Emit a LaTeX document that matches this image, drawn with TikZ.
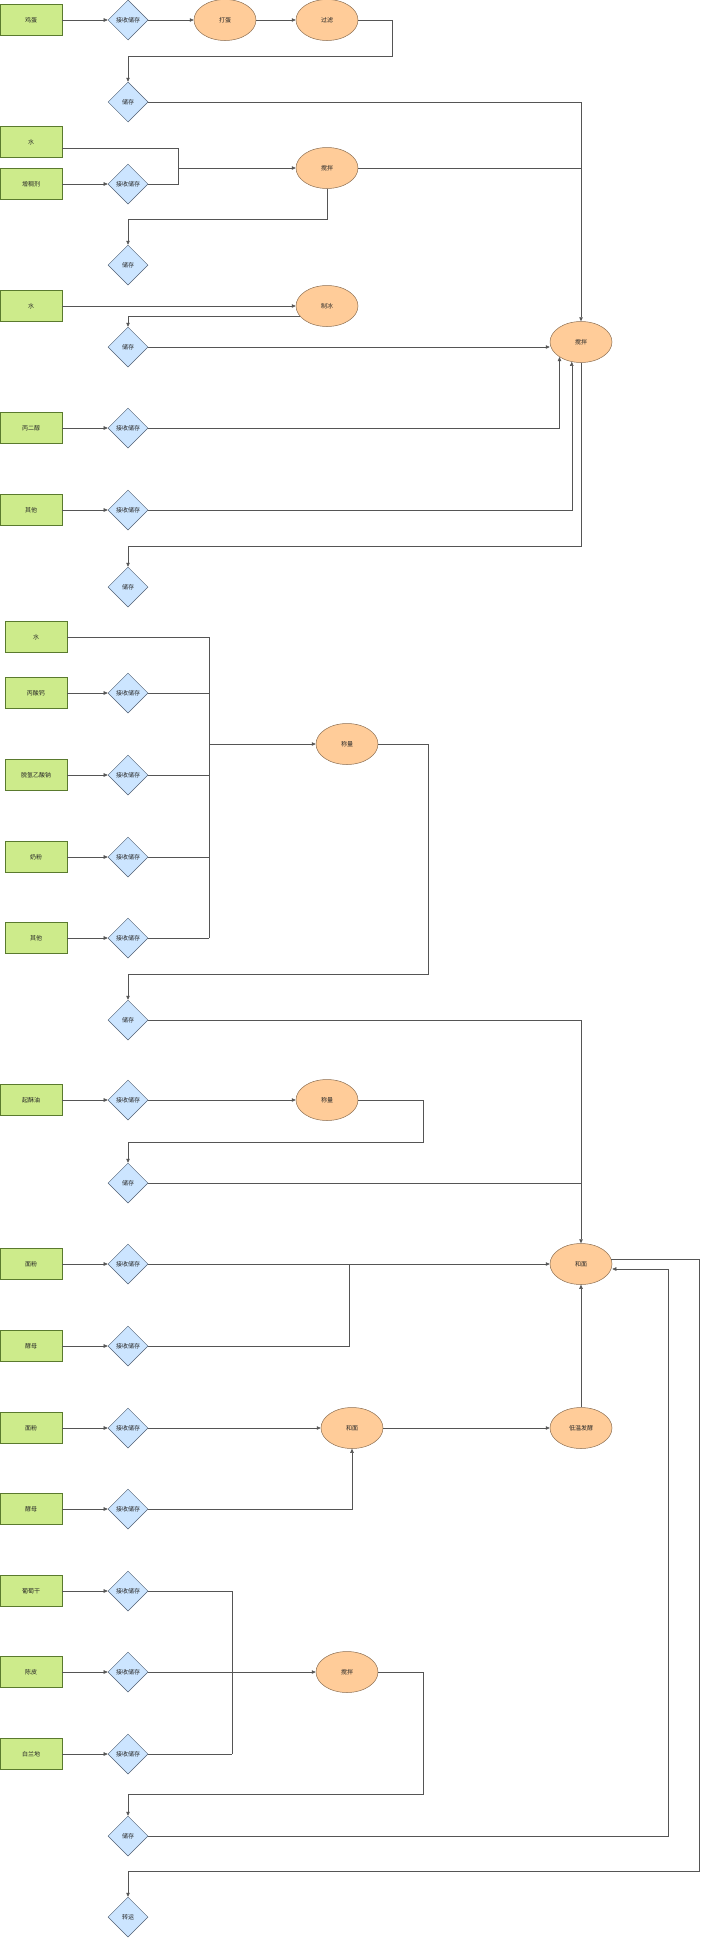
\documentclass[tikz,border=0pt]{standalone}
\usepackage{fontspec}
\newfontfamily\cjk{Noto Sans CJK SC}
\usetikzlibrary{shapes.geometric,arrows.meta}
\definecolor{gfill}{HTML}{CDEB8B}
\definecolor{bfill}{HTML}{CCE5FF}
\definecolor{ofill}{HTML}{FFCC99}
\definecolor{gbord}{HTML}{5A7A2E}
\definecolor{bbord}{HTML}{4F5F73}
\definecolor{obord}{HTML}{8C6F52}
\definecolor{lc}{HTML}{555555}
\begin{document}
\begin{tikzpicture}[x=1pt,y=-1pt,
  every node/.style={font=\cjk\fontsize{6pt}{7pt}\selectfont, text=black!85, inner sep=0pt, line width=0.5pt},
  box/.style={draw=gbord, fill=gfill, minimum width=62pt, minimum height=31pt},
  dia/.style={diamond, aspect=1, draw=bbord, fill=bfill, minimum width=40pt, minimum height=40pt},
  ell/.style={ellipse, draw=obord, fill=ofill, minimum width=62pt, minimum height=41pt},
  ln/.style={draw=lc, line width=0.5pt},
  arr/.style={ln, -{Triangle[length=4pt,width=3.5pt]}}]
\fill[white] (0,0) rectangle (703,1938);
\useasboundingbox (0,0) rectangle (703,1938);

% ---------- section 1 ----------
\node[box] (jidan) at (31,20) {鸡蛋};
\node[dia] (js1) at (128,20) {接收储存};
\node[ell] (dadan) at (225,20) {打蛋};
\node[ell] (guolv) at (327,20) {过滤};
\node[dia] (cc1) at (128,102) {储存};

\node[box] (shui1) at (31,142) {水};
\node[box] (zcj) at (31,184) {增稠剂};
\node[dia] (js2) at (128,184) {接收储存};
\node[ell] (jb2) at (327,168) {搅拌};
\node[dia] (cc2) at (128,265) {储存};

\node[box] (shui2) at (31,306) {水};
\node[ell] (zb) at (327,306) {制冰};
\node[dia] (cc3) at (128,347) {储存};
\node[ell] (jb1) at (581,342) {搅拌};

\node[box] (bed) at (31,428) {丙二醇};
\node[dia] (js3) at (128,428) {接收储存};
\node[box] (qt1) at (31,510) {其他};
\node[dia] (js4) at (128,510) {接收储存};
\node[dia] (cc4) at (128,587) {储存};

\coordinate (b1) at (392,56);
\coordinate (m1) at (178,168);
\coordinate (b2) at (327,219);
\coordinate (b3) at (581,546);

\draw[arr] (jidan) -- (js1);
\draw[arr] (js1) -- (dadan);
\draw[arr] (dadan) -- (guolv);
\draw[arr] (guolv.east) -| (b1) -| (cc1.north);
\draw[arr] (cc1.east) -| (jb1.north);

\draw[ln] ([yshift=-6pt]shui1.east) -| (m1);
\draw[arr] (zcj) -- (js2);
\draw[ln] (js2.east) -| (m1);
\draw[arr] (m1) -- (jb2.west);
\draw[arr] (jb2.south) -- (b2) -| (cc2.north);
\draw[ln] (jb2.east) -- (jb2.east -| jb1.north);

\draw[arr] (shui2) -- (zb);
\draw[arr] (zb.200) -| (cc3.north);
\draw[arr] (cc3.east) -- (cc3.east -| jb1.west);

\draw[arr] (bed) -- (js3);
\draw[arr] (js3.east) -| (jb1.215.7);
\draw[arr] (qt1) -- (js4);
\draw[arr] (js4.east) -| (jb1.245.3);
\draw[arr] (jb1.south) -- (b3) -| (cc4.north);

% ---------- section 2 ----------
\node[box] (shui3) at (36,637) {水};
\node[box] (bsg) at (36,693) {丙酸钙};
\node[dia] (js5) at (128,693) {接收储存};
\node[box] (tq) at (36,775) {脱氢乙酸钠};
\node[dia] (js6) at (128,775) {接收储存};
\node[box] (nf) at (36,857) {奶粉};
\node[dia] (js7) at (128,857) {接收储存};
\node[box] (qt2) at (36,938) {其他};
\node[dia] (js8) at (128,938) {接收储存};
\node[ell] (cl1) at (347,744) {称量};
\node[dia] (cc5) at (128,1020) {储存};

\coordinate (bus2) at (209,938);
\coordinate (b4) at (428,974);

\draw[ln] (shui3.east) -| (bus2);
\draw[arr] (bsg) -- (js5);
\draw[ln] (js5.east) -- (js5.east -| bus2);
\draw[arr] (tq) -- (js6);
\draw[ln] (js6.east) -- (js6.east -| bus2);
\draw[arr] (nf) -- (js7);
\draw[ln] (js7.east) -- (js7.east -| bus2);
\draw[arr] (qt2) -- (js8);
\draw[ln] (js8.east) -- (bus2);
\draw[arr] (bus2 |- cl1.west) -- (cl1.west);
\draw[arr] (cl1.east) -| (b4) -| (cc5.north);

\node[box] (qsy) at (31,1100) {起酥油};
\node[dia] (js9) at (128,1100) {接收储存};
\node[ell] (cl2) at (327,1100) {称量};
\node[dia] (cc6) at (128,1183) {储存};
\coordinate (b5) at (423,1142);

\node[ell] (hm1) at (581,1264) {和面};

\draw[arr] (qsy) -- (js9);
\draw[arr] (js9) -- (cl2);
\draw[arr] (cl2.east) -| (b5) -| (cc6.north);
\draw[arr] (cc5.east) -| (hm1.north);
\draw[ln] (cc6.east) -- (cc6.east -| hm1.north);

% ---------- section 3 ----------
\node[box] (mf1) at (31,1264) {面粉};
\node[dia] (js10) at (128,1264) {接收储存};
\node[box] (jm1) at (31,1346) {酵母};
\node[dia] (js11) at (128,1346) {接收储存};
\coordinate (j1) at (349,1264);

\draw[arr] (mf1) -- (js10);
\draw[arr] (js10) -- (hm1);
\draw[arr] (jm1) -- (js11);
\draw[ln] (js11.east) -| (j1);

\node[box] (mf2) at (31,1428) {面粉};
\node[dia] (js12) at (128,1428) {接收储存};
\node[ell] (hm2) at (352,1428) {和面};
\node[ell] (dw) at (581,1428) {低温发酵};
\node[box] (jm2) at (31,1509) {酵母};
\node[dia] (js13) at (128,1509) {接收储存};

\draw[arr] (mf2) -- (js12);
\draw[arr] (js12) -- (hm2);
\draw[arr] (hm2) -- (dw);
\draw[arr] (dw.north) -- (hm1.south);
\draw[arr] (jm2) -- (js13);
\draw[arr] (js13.east) -| (hm2.south);

% ---------- section 4 ----------
\node[box] (ptg) at (31,1591) {葡萄干};
\node[dia] (js14) at (128,1591) {接收储存};
\node[box] (cp) at (31,1672) {陈皮};
\node[dia] (js15) at (128,1672) {接收储存};
\node[box] (bld) at (31,1754) {白兰地};
\node[dia] (js16) at (128,1754) {接收储存};
\node[ell] (jb3) at (347,1672) {搅拌};
\node[dia] (cc7) at (128,1836) {储存};
\node[dia] (zy) at (128,1917) {转运};

\coordinate (bus3) at (232,1754);
\coordinate (b6) at (423,1794);
\coordinate (b7) at (668,1269);
\coordinate (b9) at (699,1871);

\draw[arr] (ptg) -- (js14);
\draw[ln] (js14.east) -| (bus3);
\draw[arr] (cp) -- (js15);
\draw[arr] (js15) -- (jb3);
\draw[arr] (bld) -- (js16);
\draw[ln] (js16.east) -- (bus3);
\draw[arr] (jb3.east) -| (b6) -| (cc7.north);
\draw[arr] (cc7.east) -| (b7) -- (b7 -| hm1.east);
\draw[arr] (hm1.9.4) -| (b9) -| (zy.north);
\end{tikzpicture}
\end{document}
